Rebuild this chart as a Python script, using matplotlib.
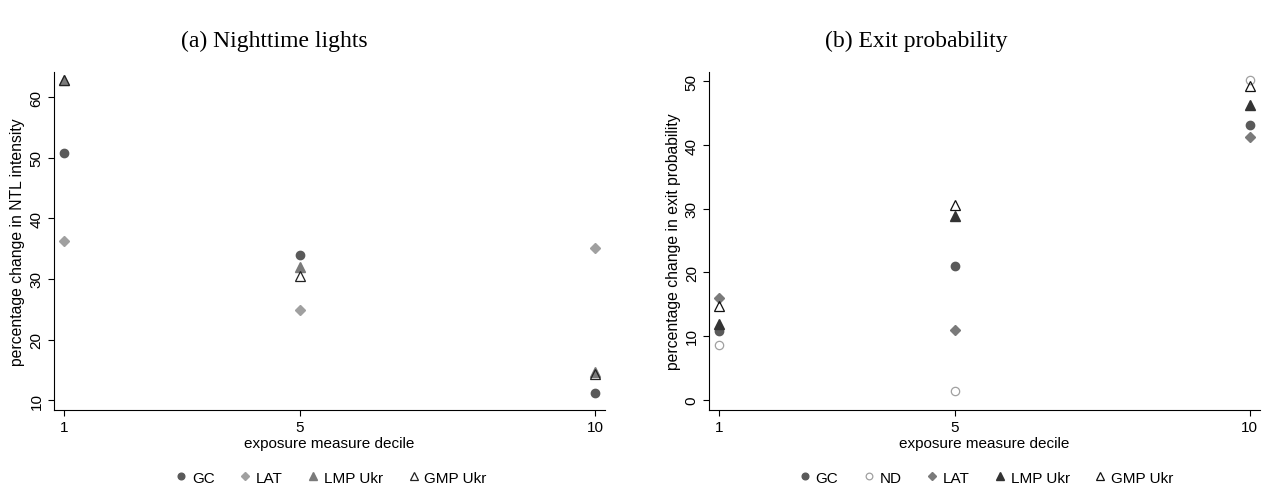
import numpy as np
import matplotlib
matplotlib.use('Agg')
import matplotlib.pyplot as plt
from matplotlib.lines import Line2D

plt.rcParams['font.family'] = ['Liberation Sans', 'DejaVu Sans']

deciles = [1, 5, 10]

# (a) nighttime lights
ntl_gc = [50.8, 34.0, 11.1]
ntl_lat = [36.3, 24.8, 35.1]
ntl_lmp = [62.9, 32.0, 14.6]
ntl_gmp = [62.8, 30.5, 14.3]

# (b) exit probability
exit_gc = [10.7, 21.0, 43.2]
exit_nd = [8.5, 1.3, 50.2]
exit_lat = [16.0, 11.0, 41.2]
exit_lmp = [11.8, 28.9, 46.3]
exit_gmp = [14.7, 30.6, 49.3]

fig = plt.figure(figsize=(12.71, 4.89), dpi=100)
ax1 = fig.add_axes([0.0425, 0.160, 0.4335, 0.691])
ax2 = fig.add_axes([0.558, 0.160, 0.433, 0.691])

series_a = [
    ('GC', ntl_gc, dict(marker='o', ms=6, mfc='#5a5a5a', mec='#5a5a5a')),
    ('LAT', ntl_lat, dict(marker='D', ms=5.5, mfc='#a0a0a0', mec='#a0a0a0')),
    ('LMP Ukr', ntl_lmp, dict(marker='^', ms=6.5, mfc='#7a7a7a', mec='#7a7a7a')),
    ('GMP Ukr', ntl_gmp, dict(marker='^', ms=6.5, mfc='none', mec='#222222', mew=0.9)),
]
series_b = [
    ('GC', exit_gc, dict(marker='o', ms=6, mfc='#5a5a5a', mec='#5a5a5a')),
    ('ND', exit_nd, dict(marker='o', ms=6, mfc='none', mec='#a0a0a0', mew=0.9)),
    ('LAT', exit_lat, dict(marker='D', ms=5.5, mfc='#7a7a7a', mec='#7a7a7a')),
    ('LMP Ukr', exit_lmp, dict(marker='^', ms=6.5, mfc='#333333', mec='#333333')),
    ('GMP Ukr', exit_gmp, dict(marker='^', ms=6.5, mfc='none', mec='#111111', mew=0.9)),
]


def draw(ax, series, ylabel, yticks, ylim):
    handles = []
    for name, vals, st in series:
        ax.plot(deciles, vals, ls='none', **st)
        leg_st = dict(st)
        leg_st['ms'] = st['ms'] * 0.8
        handles.append(Line2D([], [], ls='none', label=name, **leg_st))
    ax.set_xlim(0.83, 10.17)
    ax.set_ylim(*ylim)
    ax.set_xticks(deciles)
    ax.set_yticks(yticks)
    ax.tick_params(axis='y', labelrotation=90, labelsize=11, length=4)
    ax.tick_params(axis='x', labelsize=11, length=4)
    for lab in ax.get_yticklabels():
        lab.set_va('center')
    ax.spines['top'].set_visible(False)
    ax.spines['right'].set_visible(False)
    ax.set_xlabel('exposure measure decile', fontsize=11, labelpad=1)
    ax.set_ylabel(ylabel, fontsize=11.3, labelpad=3)
    ax.legend(handles=handles, loc='upper center', bbox_to_anchor=(0.5, -0.14),
              ncol=len(handles), frameon=False, fontsize=11, handletextpad=0.1,
              columnspacing=1.4, handlelength=1.2)


draw(ax1, series_a, 'percentage change in NTL intensity',
     [10, 20, 30, 40, 50, 60], (8.4, 64.2))
draw(ax2, series_b, 'percentage change in exit probability',
     [0, 10, 20, 30, 40, 50], (-1.6, 51.5))

fig.text(0.216, 0.915, '(a) Nighttime lights', fontsize=17,
         family=['Liberation Serif'], ha='center', va='center')
fig.text(0.721, 0.915, '(b) Exit probability', fontsize=17,
         family=['Liberation Serif'], ha='center', va='center')

fig.savefig('out.png', dpi=100)
